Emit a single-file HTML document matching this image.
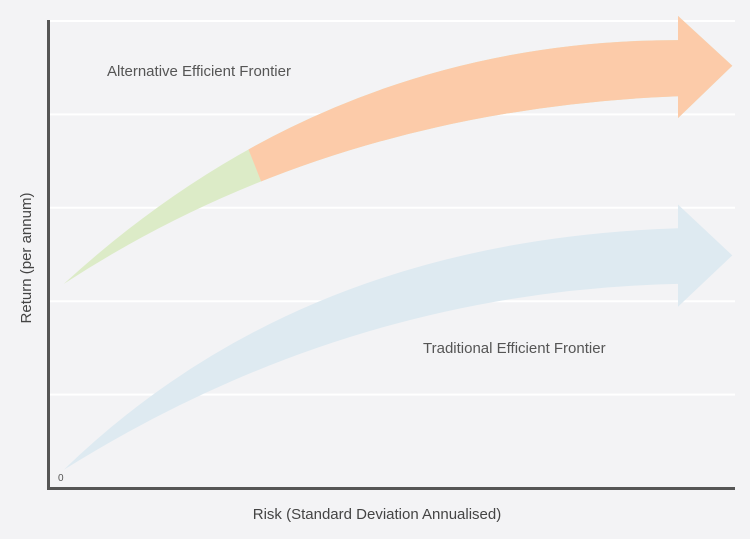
<!DOCTYPE html>
<html><head><meta charset="utf-8"><style>
html,body{margin:0;padding:0;background:#f3f3f5;}
svg{display:block;font-family:"Liberation Sans",sans-serif;}
</style></head><body>
<svg id="chart" width="750" height="539" viewBox="0 0 750 539">
<rect width="750" height="539" fill="#f3f3f5"/>
<g id="grid"></g>
<g id="marks"></g>
<line x1="48.5" y1="20" x2="48.5" y2="489" stroke="#555" stroke-width="3"/>
<line x1="47" y1="488.5" x2="735" y2="488.5" stroke="#555" stroke-width="3"/>
<text x="58" y="481" font-size="10" fill="#555">0</text>
<text x="107" y="76" font-size="15" fill="#555">Alternative Efficient Frontier</text>
<text x="423" y="353" font-size="15" fill="#555">Traditional Efficient Frontier</text>
<text x="377" y="519" font-size="15" fill="#444" text-anchor="middle">Risk (Standard Deviation Annualised)</text>
<text transform="translate(31,258) rotate(-90)" font-size="15" fill="#444" text-anchor="middle">Return (per annum)</text>
</svg>
<script>
// Axis domain 0..100 in both directions
const gridTicks = [0, 20, 40, 60, 80, 100];
// Traditional frontier arrow (axis units): start, upper control, upper end, lower end, lower control
const tradStart = [2.3, 3.9];
const tradUpperCtrl = [36.7, 53];
const tradUpperEnd = [91.7, 55.6];
const tradLowerEnd = [91.7, 43.7];
const tradLowerCtrl = [43.9, 42.2];
const tradHead = [[91.7, 60.7], [99.6, 49.8], [91.7, 38.8]];
// Alternative frontier arrow
const altStart = [2.3, 43.7];
const altUpperCtrl = [41, 95.9];
const altUpperEnd = [91.7, 95.9];
const altLowerEnd = [91.7, 83.9];
const altLowerCtrl = [41, 80.9];
const altHead = [[91.7, 101.1], [99.6, 90.4], [91.7, 79.2]];
// Colour split between green and orange segments
const altSplit = [[28.7, 74.3], [31.2, 65]];

const X0 = 48, X1 = 735, Y0 = 488, Y1 = 21;
const sx = v => X0 + (X1 - X0) * v / 100;
const sy = v => Y0 - (Y0 - Y1) * v / 100;
const P = p => sx(p[0]).toFixed(1) + ',' + sy(p[1]).toFixed(1);
const NS = 'http://www.w3.org/2000/svg';
const grid = document.getElementById('grid');
const marks = document.getElementById('marks');

gridTicks.forEach(t => {
  if (t === 0) return;
  const l = document.createElementNS(NS, 'line');
  
  
  l.setAttribute('x1', X0); l.setAttribute('x2', X1);
  l.setAttribute('y1', sy(t)); l.setAttribute('y2', sy(t));
  l.setAttribute('stroke', '#ffffff'); l.setAttribute('stroke-width', '2');
  grid.appendChild(l);
});

function arrowPath(s, uc, ue, head, le, lc) {
  return 'M' + P(s) + ' Q' + P(uc) + ' ' + P(ue) + ' L' + P(head[0]) + ' L' + P(head[1]) +
    ' L' + P(head[2]) + ' L' + P(le) + ' Q' + P(lc) + ' ' + P(s) + ' Z';
}

const defs = document.createElementNS(NS, 'defs');
const cp = document.createElementNS(NS, 'clipPath');
cp.setAttribute('id', 'orangeClip');
const poly = document.createElementNS(NS, 'polygon');
const a = altSplit[0], b = altSplit[1];
poly.setAttribute('points', P(a) + ' ' + sx(a[0]) + ',0 750,0 750,539 ' + sx(b[0]) + ',539 ' + P(b));
// extend split line across full height along its direction
const dx = (sx(b[0]) - sx(a[0])) / (sy(b[1]) - sy(a[1]));
const topX = sx(a[0]) - dx * sy(a[1]);
const botX = sx(a[0]) + dx * (539 - sy(a[1]));
poly.setAttribute('points', topX + ',0 750,0 750,539 ' + botX + ',539');
cp.appendChild(poly); defs.appendChild(cp); marks.appendChild(defs);

const trad = document.createElementNS(NS, 'path');


trad.setAttribute('d', arrowPath(tradStart, tradUpperCtrl, tradUpperEnd, tradHead, tradLowerEnd, tradLowerCtrl));
trad.setAttribute('fill', '#deeaf1');
marks.appendChild(trad);

const altD = arrowPath(altStart, altUpperCtrl, altUpperEnd, altHead, altLowerEnd, altLowerCtrl);
const green = document.createElementNS(NS, 'path');


green.setAttribute('d', altD);
green.setAttribute('fill', '#dcebc7');
marks.appendChild(green);

const orange = document.createElementNS(NS, 'path');


orange.setAttribute('d', altD);
orange.setAttribute('fill', '#fccba9');
orange.setAttribute('clip-path', 'url(#orangeClip)');
marks.appendChild(orange);
</script>
</body></html>
